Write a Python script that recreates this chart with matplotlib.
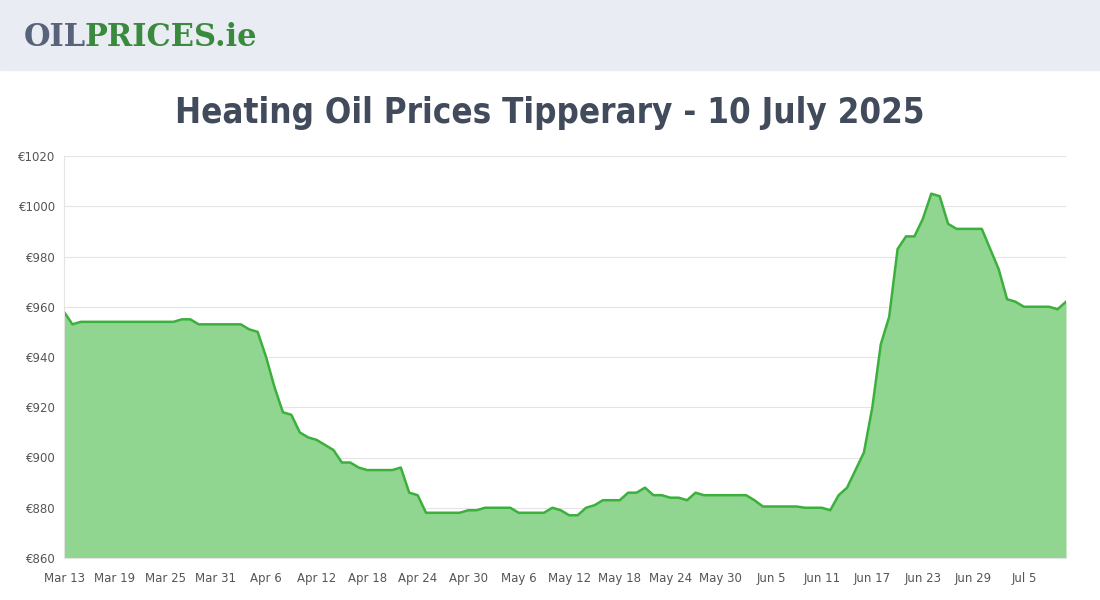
import numpy as np
import pandas as pd
import matplotlib.pyplot as plt
from matplotlib.ticker import FixedLocator

# daily prices, Mar 13 - Jul 10 2025
prices_mar = [958, 953, 954, 954, 954, 954, 954, 954, 954, 954, 954, 954, 954, 954, 955, 955, 953, 953, 953]
prices_apr = [953, 953, 953, 951, 950, 940, 928, 918, 917, 910, 908, 907, 905, 903, 898, 898, 896, 895, 895, 895,
              895, 896, 886, 885, 878, 878, 878, 878, 878, 879]
prices_may = [879, 880, 880, 880, 880, 878, 878, 878, 878, 880, 879, 877, 877, 880, 881, 883, 883, 883, 886, 886,
              888, 885, 885, 884, 884, 883, 886, 885, 885, 885, 885]
prices_jun = [885, 885, 883, 880.5, 880.5, 880.5, 880.5, 880.5, 880, 880, 880, 879, 885, 888, 895, 902, 920, 945,
              956, 983, 988, 988, 995, 1005, 1004, 993, 991, 991, 991, 991]
prices_jul = [983, 975, 963, 962, 960, 960, 960, 960, 959, 962]

prices = prices_mar + prices_apr + prices_may + prices_jun + prices_jul
dates = pd.date_range("2025-03-13", periods=len(prices), freq="D")
x = np.arange(len(prices))
tick_pos = x[::6]
tick_labels = [d.strftime("%b %-d") for d in dates[::6]]
y_ticks = list(range(860, 1021, 20))

fig = plt.figure(figsize=(11, 6), dpi=100)
fig.patch.set_facecolor("white")

# header band
fig.patches.append(plt.Rectangle((0, 530 / 600), 1, 70 / 600, transform=fig.transFigure,
                                 color="#e9ecf3", zorder=0))
fig.text(24 / 1100, 1 - 38 / 600, "OIL", fontsize=22, fontweight="heavy", family="DejaVu Serif",
         color="#58627a", va="center")
fig.text(85 / 1100, 1 - 38 / 600, "PRICES.ie", fontsize=22, fontweight="heavy", family="DejaVu Serif",
         color="#3a8a3e", va="center")

fig.text(0.5, 1 - 113 / 600, "Heating Oil Prices Tipperary - 10 July 2025", ha="center", va="center",
         fontsize=25, color="#424b5c", family="DejaVu Sans", fontstretch="condensed", fontweight="bold")

ax = fig.add_axes([64 / 1100, 42 / 600, 1002 / 1100, 402 / 600])
ax.fill_between(x, prices, 860, color="#90d590", lw=0)
ax.plot(x, prices, color="#3cb03c", lw=1.8)
ax.set_xlim(0, len(prices) - 1)
ax.set_ylim(860, 1020)
ax.xaxis.set_major_locator(FixedLocator(tick_pos))
ax.set_xticklabels(tick_labels)
ax.set_yticks(y_ticks)
ax.set_yticklabels([f"€{v}" for v in y_ticks])
ax.tick_params(labelsize=8.5, colors="#555555", length=0)
ax.tick_params(axis="x", pad=10)
ax.tick_params(axis="y", pad=6)
ax.grid(axis="y", color="#e4e4e4", lw=0.8)
ax.set_axisbelow(True)
for s in ["top", "right"]:
    ax.spines[s].set_visible(False)
ax.spines["left"].set_color("#e4e4e4")
ax.spines["bottom"].set_color("#e4e4e4")

fig.savefig("out.png", dpi=100)
